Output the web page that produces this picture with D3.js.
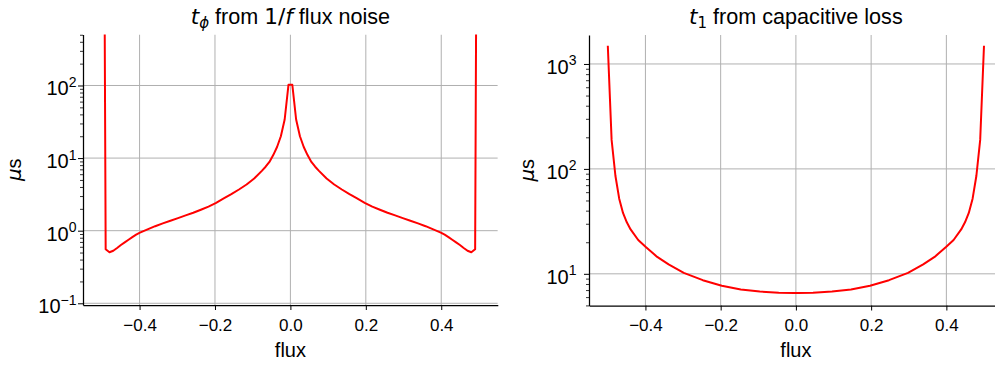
<!DOCTYPE html>
<html>
<head>
<meta charset="utf-8">
<script src="https://cdn.jsdelivr.net/npm/d3@7"></script>
<style>
html,body{margin:0;padding:0;background:#fff;}
svg{display:block;}
text{font-family:"Liberation Sans",Arial,Helvetica,sans-serif;fill:#000;}
</style>
</head>
<body>
<svg id="chart" width="995" height="367"></svg>
<script>
// ---------- data ----------
const fluxPhi = [-0.5,-0.4899,-0.4798,-0.4697,-0.4596,-0.4495,-0.4394,-0.4293,-0.4192,-0.4091,-0.3990,-0.3788,-0.3586,-0.3384,-0.3182,-0.2980,-0.2778,-0.2576,-0.2374,-0.2172,-0.1970,-0.1768,-0.1566,-0.1364,-0.1162,-0.0960,-0.0758,-0.0657,-0.0556,-0.0455,-0.0354,-0.0253,-0.0152,-0.0051,
  0.0051,0.0152,0.0253,0.0354,0.0455,0.0556,0.0657,0.0758,0.0960,0.1162,0.1364,0.1566,0.1768,0.1970,0.2172,0.2374,0.2576,0.2778,0.2980,0.3182,0.3384,0.3586,0.3788,0.3990,0.4091,0.4192,0.4293,0.4394,0.4495,0.4596,0.4697,0.4798,0.4899,0.5];
const tPhi = [1e12,0.555,0.505,0.53,0.578,0.635,0.69,0.75,0.815,0.88,0.939,1.043,1.153,1.261,1.372,1.492,1.624,1.766,1.942,2.147,2.424,2.779,3.187,3.694,4.327,5.23,6.67,7.6,8.86,11.0,14.2,20.0,34.0,102,
  102,34.0,20.0,14.2,11.0,8.86,7.6,6.67,5.23,4.327,3.694,3.187,2.779,2.424,2.147,1.942,1.766,1.624,1.492,1.372,1.261,1.153,1.043,0.939,0.88,0.815,0.75,0.69,0.635,0.578,0.53,0.505,0.555,1e12];

const fluxT1 = [-0.5,-0.4899,-0.4798,-0.4697,-0.4596,-0.4495,-0.4394,-0.4192,-0.3990,-0.3687,-0.3384,-0.2980,-0.2475,-0.1970,-0.1465,-0.0960,-0.0455,-0.0051,
  0.0051,0.0455,0.0960,0.1465,0.1970,0.2475,0.2980,0.3384,0.3687,0.3990,0.4192,0.4394,0.4495,0.4596,0.4697,0.4798,0.4899,0.5];
const t1 = [1490,189,86,52,38,31,26.5,21,18,14.5,12.3,10.2,8.7,7.7,7.1,6.78,6.6,6.55,
  6.55,6.6,6.78,7.1,7.7,8.7,10.2,12.3,14.5,18,21,26.5,31,38,52,86,189,1490];

const xTicks = [-0.4,-0.2,0.0,0.2,0.4];
const xTickLabels = ["\u22120.4","\u22120.2","0.0","0.2","0.4"];
const yTicksPhi = [0.1,1,10,100];
const yTickExpPhi = ["\u22121","0","1","2"];
const yTicksT1 = [10,100,1000];
const yTickExpT1 = ["1","2","3"];

// ---------- layout ----------
const svg = d3.select("#chart");
const panels = [
  {id:"a", flux:fluxPhi, vals:tPhi, x0:83, x1:497.8, yTop:34.5, yBot:305, yDom:[0.0947,504],
   yTicks:yTicksPhi, yExp:yTickExpPhi, title:"phi", ylabX:20.5, labX:-6.5},
  {id:"b", flux:fluxT1, vals:t1, x0:589, x1:1002.8, yTop:35, yBot:305.5, yDom:[4.99,1888],
   yTicks:yTicksT1, yExp:yTickExpT1, title:"t1", ylabX:534, labX:-12.5}
];

panels.forEach(p => {
  const x = d3.scaleLinear().domain([-0.55,0.55]).range([p.x0,p.x1]);
  const y = d3.scaleLog().domain(p.yDom).range([p.yBot,p.yTop]);
  const g = svg.append("g");

  svg.append("clipPath").attr("id","clip"+p.id).append("rect")
    .attr("x",p.x0).attr("y",p.yTop).attr("width",p.x1-p.x0).attr("height",p.yBot-p.yTop);

  // grid
  const grid = g.append("g").attr("clip-path","url(#clip"+p.id+")");
  grid.selectAll("line.gx").data(xTicks).join("line")
    .attr("x1",d=>x(d)).attr("x2",d=>x(d)).attr("y1",p.yTop).attr("y2",p.yBot)
    .attr("stroke","#b0b0b0").attr("stroke-width",1);
  grid.selectAll("line.gy").data(p.yTicks).join("line")
    .attr("x1",p.x0).attr("x2",p.x1).attr("y1",d=>y(d)).attr("y2",d=>y(d))
    .attr("stroke","#b0b0b0").attr("stroke-width",1);

  // line
  const pts = p.flux.map((f,i)=>[f,p.vals[i]]);
  g.append("path").attr("clip-path","url(#clip"+p.id+")")
    .datum(pts)
    .attr("fill","none").attr("stroke","#ff0000").attr("stroke-width",2)
    .attr("stroke-linejoin","round")
    .attr("d", d3.line().x(d=>x(d[0])).y(d=>y(d[1])));

  // x axis
  const xa = g.append("g").attr("transform",`translate(0,${p.yBot})`)
    .call(d3.axisBottom(x).tickValues(xTicks).tickSize(5).tickSizeOuter(0)
      .tickFormat((d,i)=>xTickLabels[i]));
  xa.select(".domain").attr("stroke","#000").attr("stroke-width",1.25);
  xa.selectAll(".tick line").attr("stroke","#000").attr("stroke-width",1);
  xa.selectAll(".tick text").attr("font-size",17).attr("dy",null).attr("y",null)
    .attr("transform","translate(0,25.5)")
    .style("font-family","'Liberation Sans',Arial,sans-serif");

  // y minor ticks
  const [lo,hi] = p.yDom;
  const minor = [];
  for (let e=Math.floor(Math.log10(lo)); e<=Math.ceil(Math.log10(hi)); e++){
    for (let m=2;m<=9;m++){ const v=m*Math.pow(10,e); if(v>=lo && v<=hi) minor.push(v); }
  }
  const ym = g.append("g").attr("transform",`translate(${p.x0},0)`)
    .call(d3.axisLeft(y).tickValues(minor).tickSize(3).tickSizeOuter(0).tickFormat(""));
  ym.select(".domain").remove();
  ym.selectAll(".tick line").attr("stroke","#000").attr("stroke-width",0.8);

  // y major
  const ya = g.append("g").attr("transform",`translate(${p.x0},0)`)
    .call(d3.axisLeft(y).tickValues(p.yTicks).tickSize(5).tickSizeOuter(0).tickFormat(""));
  ya.select(".domain").attr("stroke","#000").attr("stroke-width",1.25);
  ya.selectAll(".tick line").attr("stroke","#000").attr("stroke-width",1);
  ya.selectAll(".tick").each(function(d,i){
    const t = d3.select(this).append("text").attr("x",p.labX).attr("y",9.5)
      .attr("text-anchor","end").attr("fill","#000").attr("font-size",20)
      .style("font-family","'Liberation Sans',Arial,sans-serif");
    t.append("tspan").text("10");
    t.append("tspan").attr("dy",-8.5).attr("font-size",14).text(p.yExp[i]);
  });

  // labels
  const cx = (p.x0 + p.x1)/2;
  svg.append("text").attr("x",cx).attr("y",357).attr("text-anchor","middle")
    .attr("font-size",20).text("flux");

  const yl = svg.append("text").attr("transform",`translate(${p.ylabX},${(p.yTop+p.yBot)/2}) rotate(-90)`)
    .attr("text-anchor","middle").attr("font-size",20);
  yl.append("tspan").style("font-family","'DejaVu Sans'").style("font-style","italic").text("\u03bc");
  yl.append("tspan").text("s");

  const tt = svg.append("text").attr("x",cx).attr("y",23.5).attr("text-anchor","middle").attr("font-size",21.6);
  if (p.title==="phi"){
    tt.append("tspan").style("font-family","'DejaVu Sans'").style("font-style","italic").text("t");
    tt.append("tspan").style("font-family","'DejaVu Sans'").style("font-style","italic")
      .attr("font-size",15).attr("dy",4.5).text("\u03d5");
    tt.append("tspan").attr("dy",-4.5).text(" from ");
    tt.append("tspan").style("font-family","'DejaVu Sans'").text("1/");
    tt.append("tspan").style("font-family","'DejaVu Sans'").style("font-style","italic").text("f");
    tt.append("tspan").text(" flux noise");
  } else {
    tt.append("tspan").style("font-family","'DejaVu Sans'").style("font-style","italic").text("t");
    tt.append("tspan").style("font-family","'DejaVu Sans'")
      .attr("font-size",15).attr("dy",4.5).text("1");
    tt.append("tspan").attr("dy",-4.5).text(" from capacitive loss");
  }
});
</script>
</body>
</html>
